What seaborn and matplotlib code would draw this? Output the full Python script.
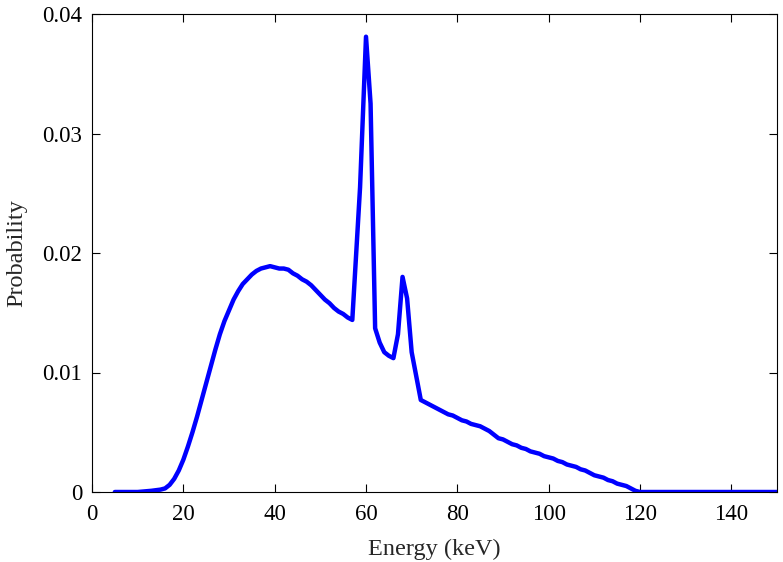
import matplotlib
matplotlib.use("Agg")
import matplotlib.pyplot as plt
import seaborn as sns
import pandas as pd

energy = [5, 10, 13, 15, 16, 17, 18, 19, 20, 21, 22, 23, 24, 25, 26, 27, 28, 29, 30,
          31, 32, 33, 34, 35, 36, 37, 38, 39, 40, 41, 42, 43, 44, 45, 46, 47, 48, 49, 50,
          51, 52, 53, 54, 55, 56, 57, 58.7, 60, 61, 62, 63, 64, 65, 66, 67, 68, 69, 70, 72,
          73, 74, 75, 76, 77, 78, 79, 80, 81, 82, 83, 84, 85, 86, 87, 88, 89, 90,
          91, 92, 93, 94, 95, 96, 97, 98, 99, 100, 101, 102, 103, 104, 105, 106, 107, 108,
          109, 110, 111, 112, 113, 114, 115, 116, 117, 118, 119, 120, 150]
probability = [0, 0, 0.0001, 0.0002, 0.0003, 0.0006, 0.0011, 0.0018, 0.0027, 0.0038, 0.0050,
               0.0063, 0.0077, 0.0091, 0.0105, 0.0119, 0.0132, 0.0143, 0.0152,
               0.0161, 0.0168, 0.0174, 0.0178, 0.0182, 0.0185, 0.0187, 0.0188, 0.0189, 0.0188,
               0.0187, 0.0187, 0.0186, 0.0183, 0.0181, 0.0178, 0.0176, 0.0173, 0.0169, 0.0165,
               0.0161, 0.0158, 0.0154, 0.0151, 0.0149, 0.0146, 0.0144, 0.0255, 0.0381, 0.0325,
               0.0137, 0.0125, 0.0117, 0.0114, 0.0112, 0.0132, 0.0180, 0.0162, 0.0117, 0.0077,
               0.0075, 0.0073, 0.0071, 0.0069, 0.0067, 0.0065, 0.0064, 0.0062, 0.0060, 0.0059,
               0.0057, 0.0056, 0.0055, 0.0053, 0.0051, 0.0048, 0.0045, 0.0044,
               0.0042, 0.0040, 0.0039, 0.0037, 0.0036, 0.0034, 0.0033, 0.0032, 0.0030, 0.0029,
               0.0028, 0.0026, 0.0025, 0.0023, 0.0022, 0.0021, 0.0019, 0.0018,
               0.0016, 0.0014, 0.0013, 0.0012, 0.0010, 0.0009, 0.0007, 0.0006, 0.0005, 0.0003,
               0.0001, 0, 0]

x_ticks = [0, 20, 40, 60, 80, 100, 120, 140]
y_ticks = [0, 0.01, 0.02, 0.03, 0.04]
y_tick_labels = ["0", "0.01", "0.02", "0.03", "0.04"]

sns.set_style("ticks")
plt.rcParams['font.family'] = ['Liberation Serif', 'DejaVu Serif']

df = pd.DataFrame({"Energy": energy, "Probability": probability})

fig = plt.figure(figsize=(7.83, 5.62), dpi=100)
ax = fig.add_axes([92 / 783, 70 / 562, 685 / 783, 478 / 562])
sns.lineplot(data=df, x="Energy", y="Probability", ax=ax, color="#0000ff",
             linewidth=3.2, sort=False)

ax.set_xlim(0, 150)
ax.set_ylim(0, 0.04)
ax.set_xticks(x_ticks)
ax.set_yticks(y_ticks)
ax.set_yticklabels(y_tick_labels)
ax.set_xlabel("Energy (keV)", fontsize=17.5, labelpad=9.5)
ax.set_ylabel("Probability", fontsize=17.5, labelpad=11)
ax.tick_params(direction="in", top=True, right=True, labelsize=16.5, length=6,
               width=0.8, colors="black")
ax.tick_params(axis="x", pad=9)
ax.tick_params(axis="y", pad=7)
for s in ax.spines.values():
    s.set_visible(True)
    s.set_linewidth(0.8)
    s.set_color("black")

fig.savefig("out.png", dpi=100)
